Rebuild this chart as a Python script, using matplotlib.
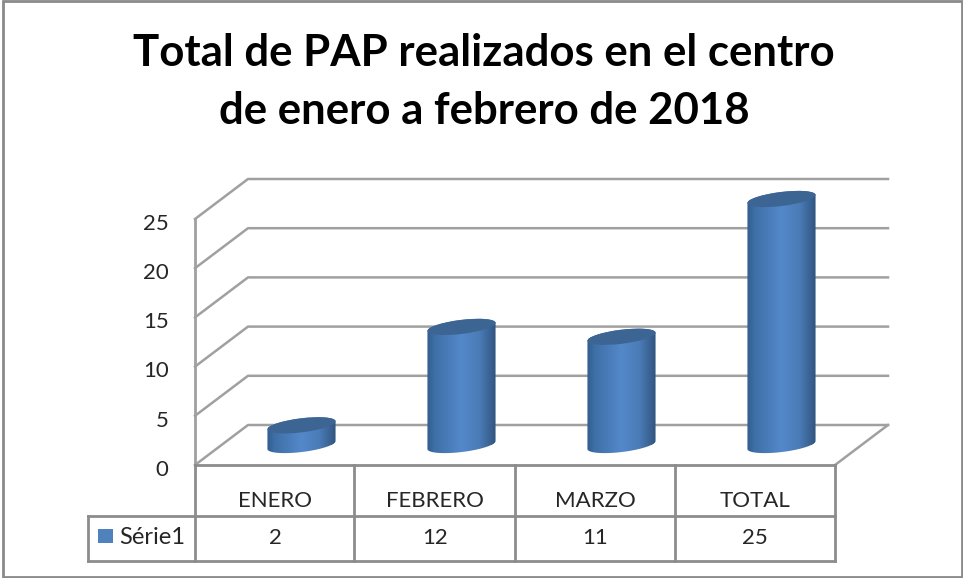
import numpy as np
import matplotlib
matplotlib.use("Agg")
import matplotlib.pyplot as plt
from matplotlib.lines import Line2D
from matplotlib.patches import Ellipse, Polygon, Rectangle
from matplotlib.transforms import IdentityTransform, ScaledTranslation
from matplotlib.colors import LinearSegmentedColormap

categories = ["ENERO", "FEBRERO", "MARZO", "TOTAL"]
series_name = "Série1"
values = [2, 12, 11, 25]
y_ticks = [0, 5, 10, 15, 20, 25]
title_lines = ["Total de PAP realizados en el centro", "de enero a febrero de 2018"]

W, H = 963, 578
plt.rcParams["font.family"] = ["Lato", "DejaVu Sans"]
fig = plt.figure(figsize=(W / 100, H / 100), dpi=100, facecolor="white")
L, R, B, T = 195, 835, 465, 219
ax = fig.add_axes([L / W, 1 - B / H, (R - L) / W, (B - T) / H])
ax.set_facecolor("none")
for s in ax.spines.values():
    s.set_visible(False)
ax.set_xlim(0, 4)
ax.set_ylim(0, 25)

GRID = "#a0a0a0"
TABLE = "#8c8c8c"
TXT = "#262626"
# depth of the fake 3D box, in data units
dx = 53 / 160
dy = 40 / (246 / 25)

for v in y_ticks:
    ax.plot([0, dx, 4 + dx], [v, v + dy, v + dy], color=GRID, lw=1.8, clip_on=False, zorder=1)
ax.plot([0, 0], [0, 25], color=GRID, lw=2, clip_on=False, zorder=1)
ax.plot([4, 4 + dx], [0, dy], color=GRID, lw=1.8, clip_on=False, zorder=1)
ax.plot([0, 4], [0, 0], color=TABLE, lw=2, clip_on=False, zorder=1)

ax.set_yticks(y_ticks)
ax.set_yticklabels([str(v) for v in y_ticks], fontsize=16, color=TXT)
ax.set_xticks([i + 0.5 for i in range(4)])
ax.set_xticklabels(categories, fontsize=16, color=TXT)
ax.tick_params(axis="y", length=0, pad=19)
ax.tick_params(axis="x", length=0, pad=19)
shift = ScaledTranslation(0, -2 / 72, fig.dpi_scale_trans)
for lab in ax.get_yticklabels():
    lab.set_transform(lab.get_transform() + shift)

# cylinders
cmap = LinearSegmentedColormap.from_list(
    "cyl", [(0, "#2f5a8c"), (0.12, "#3f6fa6"), (0.5, "#5388ca"), (0.75, "#4b7cb8"), (1, "#2f527d")]
)
grad = np.linspace(0, 1, 256).reshape(1, -1)
a, b = 34.3, 7.0
theta = np.deg2rad(7)
t0 = np.arctan2(-b * np.sin(theta), a * np.cos(theta))


def arc(cx, cy, t):
    return np.column_stack([
        cx + a * np.cos(t) * np.cos(theta) - b * np.sin(t) * np.sin(theta),
        cy + a * np.cos(t) * np.sin(theta) + b * np.sin(t) * np.cos(theta),
    ])


bw = 67 / 160
for i, v in enumerate(values):
    xc = i + 0.5 + dx / 2
    y0 = dy / 2
    bars = ax.bar(xc, v, width=bw, bottom=y0, color="#4a7ab5", zorder=3)
    cx, cy0 = ax.transData.transform((xc, y0))
    _, cy1 = ax.transData.transform((xc, y0 + v))
    lower = arc(cx, cy0, np.linspace(t0 + np.pi, t0 + 2 * np.pi, 60))
    upper = arc(cx, cy1, np.linspace(t0, t0 + np.pi, 60))
    body = Polygon(np.vstack([lower, upper]), closed=True, transform=IdentityTransform(),
                   facecolor="none", edgecolor="none")
    ax.add_patch(body)
    bars[0].set_clip_path(body)
    bars[0].set_clip_box(fig.bbox)
    im = ax.imshow(grad, cmap=cmap, aspect="auto", zorder=4,
                   extent=[xc - bw / 2 - 0.01, xc + bw / 2 + 0.01, y0 - 1, y0 + v + 1])
    im.set_clip_path(body)
    im.set_clip_box(fig.bbox)
    ax.add_patch(Ellipse((cx, cy1), 2 * a, 2 * b, angle=np.rad2deg(theta), transform=IdentityTransform(),
                         facecolor="#3c6593", edgecolor="none", zorder=5, clip_on=False))
ax.set_xlim(0, 4)
ax.set_ylim(0, 25)


def hv(x0, y0, x1, y1, color=TABLE, lw=2):
    fig.add_artist(Line2D([x0 / W, x1 / W], [1 - y0 / H, 1 - y1 / H], color=color, lw=lw,
                          transform=fig.transFigure, solid_capstyle="projecting"))


# data table
row1, row2 = 516, 561
edges = [195, 354, 515, 675, 835]
for x in edges:
    hv(x, B, x, row2)
hv(88, row1, 835, row1)
hv(88, row2, 835, row2)
hv(88, row1, 88, row2)
for i, v in enumerate(values):
    fig.text((L + (i + 0.5) * 160) / W, 1 - 538 / H, str(v), ha="center", va="center",
             fontsize=16, color=TXT)
fig.add_artist(Rectangle((98 / W, 1 - 543 / H), 15 / W, 14 / H, transform=fig.transFigure,
                         facecolor="#4f81bd", edgecolor="none"))
fig.text(119 / W, 1 - 537 / H, series_name, ha="left", va="center", fontsize=17, color=TXT)

# title
fig.text(484 / W, 1 - 66 / H, title_lines[0], ha="center", va="baseline", fontsize=31.5, fontweight="bold", color="black")
fig.text(484 / W, 1 - 124 / H, title_lines[1], ha="center", va="baseline", fontsize=31.5, fontweight="bold", color="black")

# outer frame
fig.add_artist(Rectangle((3 / W, 1 - 577 / H), 959 / W, 576 / H, transform=fig.transFigure,
                         facecolor="none", edgecolor="#8a8a8a", lw=2))

fig.savefig("out.png", dpi=100)
